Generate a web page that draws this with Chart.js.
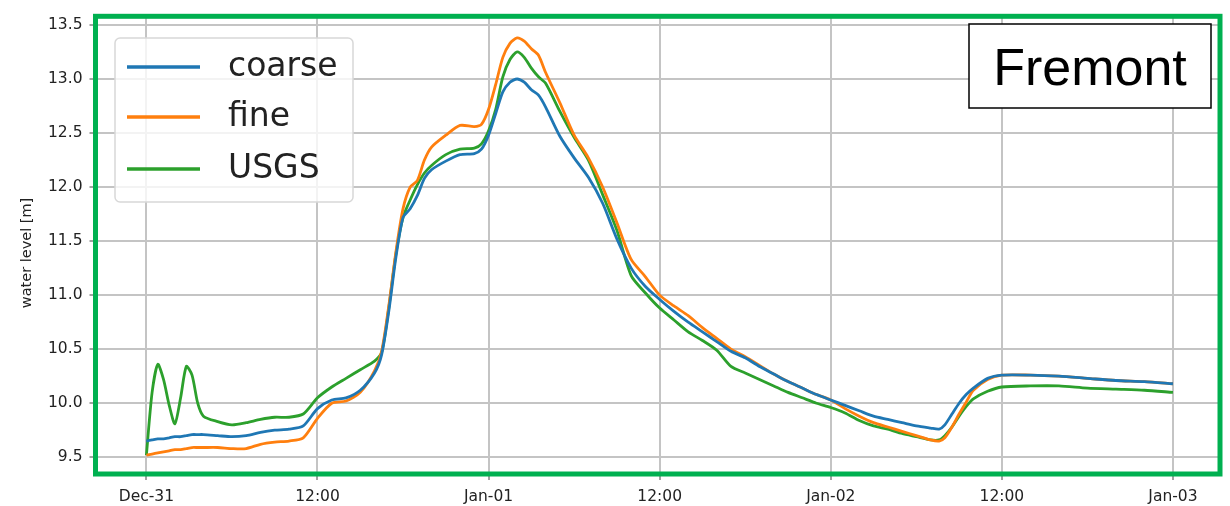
<!DOCTYPE html>
<html>
<head>
<meta charset="utf-8">
<script src="https://cdn.jsdelivr.net/npm/chart.js@4.4.1/dist/chart.umd.min.js"></script>
<style>
  body { margin: 0; background: #fff; }
  #wrap { width: 1230px; height: 506px; position: relative; }
</style>
</head>
<body>
<div id="wrap"><canvas id="myChart"></canvas></div>
<script>
// hours since Dec-31 00:00
const hours = [0, 0.4, 0.8, 1.2, 1.6, 2.0, 2.4, 2.8, 3.2, 3.6, 4, 5, 6, 7, 8, 9, 10, 11, 12, 13, 14, 15, 16, 16.5,
  17, 17.5, 18, 18.5, 19, 19.5, 20, 21, 22, 23, 23.5, 24, 24.5, 25, 25.5, 26, 26.5, 27, 27.5, 28, 29, 30, 31, 32,
  33, 34, 35, 36, 37, 38, 39, 40, 41, 42, 43, 44, 45, 46, 47, 48, 49, 50, 51, 52, 53, 54, 55, 55.6, 56, 56.5,
  57, 57.5, 58, 59, 60, 62, 64, 66, 68, 70, 72];

const coarse = [9.65, 9.66, 9.67, 9.67, 9.68, 9.69, 9.69, 9.70, 9.71, 9.71, 9.71, 9.70, 9.69, 9.70, 9.73, 9.75,
  9.76, 9.79, 9.95, 10.03, 10.05, 10.12, 10.28, 10.45, 10.85, 11.35, 11.72, 11.80, 11.92, 12.08, 12.16, 12.24,
  12.30, 12.31, 12.35, 12.48, 12.68, 12.88, 12.97, 13.00, 12.97, 12.90, 12.85, 12.74, 12.47, 12.27, 12.09, 11.85,
  11.52, 11.25, 11.08, 10.96, 10.85, 10.75, 10.66, 10.57, 10.48, 10.42, 10.34, 10.27, 10.20, 10.14, 10.08, 10.03,
  9.98, 9.93, 9.88, 9.85, 9.82, 9.79, 9.77, 9.76, 9.80, 9.90, 10.00, 10.08, 10.14, 10.23, 10.26, 10.26, 10.25,
  10.23, 10.21, 10.20, 10.18];

const fine = [9.52, 9.53, 9.54, 9.55, 9.56, 9.57, 9.57, 9.58, 9.59, 9.59, 9.59, 9.59, 9.58, 9.58, 9.62, 9.64,
  9.65, 9.68, 9.86, 10.00, 10.02, 10.10, 10.30, 10.48, 10.90, 11.40, 11.80, 12.00, 12.06, 12.25, 12.37, 12.48,
  12.57, 12.56, 12.58, 12.72, 12.95, 13.20, 13.33, 13.38, 13.35, 13.28, 13.22, 13.06, 12.78, 12.48, 12.27, 12.00,
  11.67, 11.33, 11.17, 11.00, 10.90, 10.81, 10.70, 10.60, 10.50, 10.43, 10.35, 10.27, 10.20, 10.14, 10.08, 10.03,
  9.95, 9.88, 9.82, 9.78, 9.74, 9.70, 9.66, 9.65, 9.68, 9.78, 9.90, 10.01, 10.12, 10.22, 10.26, 10.26, 10.25,
  10.23, 10.21, 10.20, 10.18];

const usgs = [9.52, 10.10, 10.36, 10.22, 9.98, 9.81, 10.05, 10.34, 10.26, 10.00, 9.88, 9.83, 9.80, 9.82, 9.85,
  9.87, 9.87, 9.90, 10.05, 10.15, 10.23, 10.31, 10.39, 10.47, 10.88, 11.38, 11.72, 11.88, 12.02, 12.13, 12.20,
  12.30, 12.35, 12.36, 12.40, 12.52, 12.72, 13.02, 13.18, 13.25, 13.20, 13.10, 13.02, 12.96, 12.70, 12.46, 12.25,
  11.93, 11.60, 11.18, 11.02, 10.88, 10.77, 10.66, 10.58, 10.49, 10.34, 10.28, 10.22, 10.16, 10.10, 10.05, 10.00,
  9.96, 9.91, 9.84, 9.79, 9.76, 9.72, 9.69, 9.66, 9.66, 9.70, 9.78, 9.88, 9.97, 10.04, 10.11, 10.15, 10.16, 10.16,
  10.14, 10.13, 10.12, 10.10];

const tickHours = [0, 12, 24, 36, 48, 60, 72];
const tickLabels = ["Dec-31", "12:00", "Jan-01", "12:00", "Jan-02", "12:00", "Jan-03"];
const yTicks = [9.5, 10.0, 10.5, 11.0, 11.5, 12.0, 12.5, 13.0, 13.5];

function toPoints(vals) {
    return hours.map(function(h, i) { return { x: h, y: vals[i] }; });
}

const tickFont = { family: "DejaVu Sans", size: 15.5 };

// green frame, legend box, y title and station label
const overlay = {
    id: 'overlay',
    afterDraw: function(chart) {
        const ctx = chart.ctx;
        const a = chart.chartArea;
        ctx.save();

        // y axis title
        ctx.save();
        ctx.translate(27, 253);
        ctx.rotate(-Math.PI / 2);
        ctx.fillStyle = '#222';
        ctx.font = '14.5px "DejaVu Sans"';
        ctx.textAlign = 'center';
        ctx.textBaseline = 'middle';
        ctx.fillText('water level [m]', 0, 0);
        ctx.restore();

        // legend
        const lx = 115, ly = 38, lw = 238, lh = 164;
        ctx.beginPath();
        ctx.roundRect(lx, ly, lw, lh, 5);
        ctx.fillStyle = 'rgba(255,255,255,0.8)';
        ctx.fill();
        ctx.strokeStyle = '#d8d8d8';
        ctx.lineWidth = 1.5;
        ctx.stroke();
        const rows = [67, 117, 169];
        ctx.font = '33px "DejaVu Sans"';
        ctx.textBaseline = 'middle';
        chart.data.datasets.forEach(function(ds, i) {
            ctx.strokeStyle = ds.borderColor;
            ctx.lineWidth = 3.5;
            ctx.beginPath();
            ctx.moveTo(127, rows[i]);
            ctx.lineTo(200, rows[i]);
            ctx.stroke();
            ctx.fillStyle = '#222';
            ctx.fillText(ds.label, 228, rows[i]);
        });

        // station box
        ctx.fillStyle = '#fff';
        ctx.fillRect(969, 24, 242, 84);
        ctx.strokeStyle = '#000';
        ctx.lineWidth = 1.5;
        ctx.strokeRect(969, 24, 242, 84);
        ctx.fillStyle = '#000';
        ctx.font = '52px "Liberation Sans"';
        ctx.textBaseline = 'alphabetic';
        ctx.textAlign = 'center';
        ctx.fillText('Fremont', 1090, 85);

        // frame
        ctx.strokeStyle = '#00b050';
        ctx.lineWidth = 5;
        ctx.strokeRect(a.left, a.top, a.right - a.left, a.bottom - a.top);
        ctx.restore();
    }
};

var ctx = document.getElementById("myChart").getContext('2d');
var myChart = new Chart(ctx, {
    type: 'line',
    data: {
        datasets: [
            { label: 'coarse', data: toPoints(coarse), borderColor: '#1f77b4' },
            { label: 'fine', data: toPoints(fine), borderColor: '#ff7f0e' },
            { label: 'USGS', data: toPoints(usgs), borderColor: '#2ca02c' }
        ]
    },
    options: {
        responsive: true,
        maintainAspectRatio: false,
        animation: false,
        layout: { padding: { top: 10, right: 10, left: 0, bottom: 0 } },
        elements: {
            point: { radius: 0 },
            line: { borderWidth: 2.8, tension: 0.25, fill: false }
        },
        plugins: {
            legend: { display: false },
            tooltip: { enabled: false }
        },
        scales: {
            x: {
                type: 'linear',
                min: -3.57,
                max: 75.3,
                afterBuildTicks: function(axis) {
                    axis.ticks = tickHours.map(function(v) { return { value: v }; });
                },
                afterFit: function(scale) { scale.height = 32; },
                ticks: {
                    autoSkip: false,
                    maxRotation: 0,
                    padding: 8,
                    color: '#222',
                    font: tickFont,
                    callback: function(value) { return tickLabels[tickHours.indexOf(value)]; }
                },
                grid: { color: '#c4c4c4', lineWidth: 2, tickLength: 6, tickColor: '#444', tickWidth: 1 },
                border: { display: false }
            },
            y: {
                min: 9.345,
                max: 13.58,
                afterBuildTicks: function(axis) {
                    axis.ticks = yTicks.map(function(v) { return { value: v }; });
                },
                afterFit: function(scale) { scale.width = 95.5; },
                ticks: {
                    padding: 7,
                    color: '#222',
                    font: tickFont,
                    callback: function(value) { return value.toFixed(1); }
                },
                grid: { color: '#c4c4c4', lineWidth: 2, tickLength: 6, tickColor: '#444', tickWidth: 1 },
                border: { display: false }
            }
        }
    },
    plugins: [overlay]
});
</script>
</body>
</html>
